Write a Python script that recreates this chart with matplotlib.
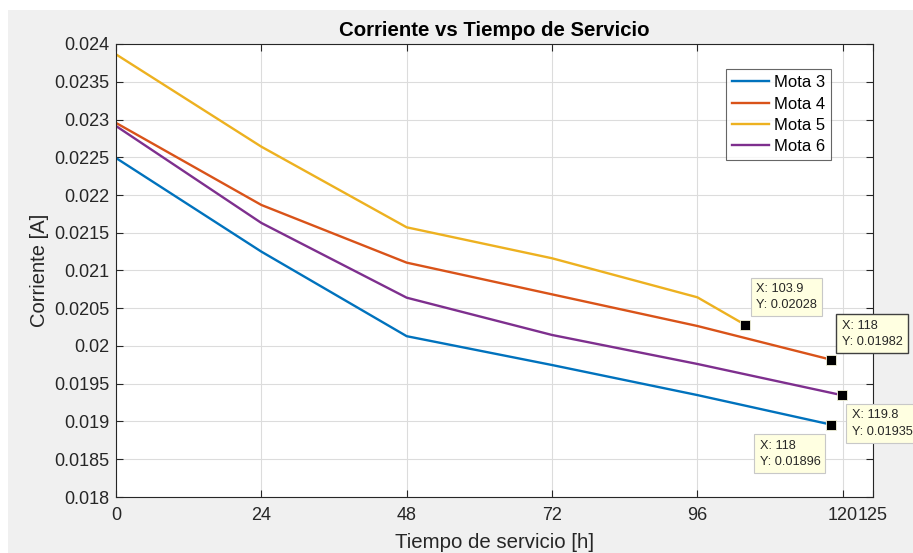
import matplotlib
matplotlib.use("Agg")
import matplotlib.pyplot as plt
from matplotlib.patches import Rectangle

plt.rcParams['font.family'] = ['Liberation Sans', 'DejaVu Sans']

# ---- data ----
series_names = ["Mota 3", "Mota 4", "Mota 5", "Mota 6"]
x_m3 = [0, 24, 48, 72, 96, 118]
y_m3 = [0.02249, 0.02125, 0.02013, 0.019748, 0.01935, 0.01896]
x_m4 = [0, 24, 48, 72, 96, 118]
y_m4 = [0.022955, 0.021868, 0.021104, 0.020684, 0.020265, 0.01982]
x_m5 = [0, 24, 48, 72, 96, 103.9]
y_m5 = [0.023863, 0.02264, 0.021572, 0.021162, 0.020645, 0.02028]
x_m6 = [0, 24, 48, 72, 96, 119.8]
y_m6 = [0.022914, 0.021630, 0.02064, 0.020146, 0.019762, 0.01935]
colors = ["#0072BD", "#D95319", "#EDB120", "#7E2F8E"]

x_ticks = [0, 24, 48, 72, 96, 120, 125]
y_ticks = [0.018, 0.0185, 0.019, 0.0195, 0.02, 0.0205, 0.021, 0.0215,
           0.022, 0.0225, 0.023, 0.0235, 0.024]

title = "Corriente vs Tiempo de Servicio"
xlabel = "Tiempo de servicio [h]"
ylabel = "Corriente [A]"

# data tips: (x, y, label, offset px (dx, dy), bold edge)
tips = [
    (103.9, 0.02028, "X: 103.9\nY: 0.02028", (11, 42), False),
    (118, 0.01982, "X: 118\nY: 0.01982", (11, 40), True),
    (119.8, 0.01935, "X: 119.8\nY: 0.01935", (10, -14), False),
    (118, 0.01896, "X: 118\nY: 0.01896", (-71, -15), False),
]

W, H = 913, 553
fig = plt.figure(figsize=(W / 100, H / 100), dpi=100, facecolor="white")
fig.patches.append(Rectangle((8 / W, 0), 1, 1 - 10 / H, transform=fig.transFigure,
                             facecolor="#f0f0f0", edgecolor="none", zorder=-10))

ax = fig.add_axes([116 / W, 1 - 497 / H, (873 - 116) / W, (497 - 44) / H])
ax.set_facecolor("white")

xs = [x_m3, x_m4, x_m5, x_m6]
ys = [y_m3, y_m4, y_m5, y_m6]
for x, y, c, n in zip(xs, ys, colors, series_names):
    ax.plot(x, y, color=c, lw=1.7, label=n)

ax.set_xlim(0, 125)
ax.set_ylim(0.018, 0.024)
ax.set_xticks(x_ticks)
ax.set_xticklabels([f"{t:g}" for t in x_ticks])
ax.set_yticks(y_ticks)
ax.set_yticklabels([f"{t:g}" for t in y_ticks])
ax.grid(True, color="#dcdcdc", lw=0.8)
ax.set_axisbelow(True)
ax.tick_params(direction="in", top=True, right=True, length=5, width=0.8,
               colors="#262626", labelsize=13, pad=4.5)
ax.tick_params(axis="x", pad=7.5)
for s in ax.spines.values():
    s.set_color("#262626")
    s.set_linewidth(0.8)

ax.set_title(title, fontsize=14.7, fontweight="bold", color="black", pad=6)
ax.set_xlabel(xlabel, fontsize=14.7, color="#262626", labelpad=6)
ax.set_ylabel(ylabel, fontsize=14.5, color="#262626", labelpad=4)

leg = ax.legend(loc="upper right", bbox_to_anchor=(0.944, 0.944), fontsize=12,
                frameon=True, fancybox=False, edgecolor="#404040",
                handlelength=2.2, handletextpad=0.3, labelspacing=0.38,
                borderpad=0.35, borderaxespad=0)
leg.get_frame().set_linewidth(0.8)

for x, y, label, (dx, dy), bold in tips:
    ax.plot([x], [y], marker="s", ms=6.5, color="black", mec="#f5f5dc",
            mew=0.6, zorder=5, clip_on=False)
    ax.annotate(label, xy=(x, y), xytext=(dx, dy), textcoords="offset pixels",
                ha="left", va="top", fontsize=9.2, color="#262626",
                annotation_clip=False, linespacing=1.5,
                bbox=dict(boxstyle="square,pad=0.4", facecolor="#ffffe1",
                          edgecolor="#404040" if bold else "#c8c8c8",
                          lw=1.0 if bold else 0.8),
                zorder=6)

fig.savefig("out.png", dpi=100, facecolor=fig.get_facecolor())
